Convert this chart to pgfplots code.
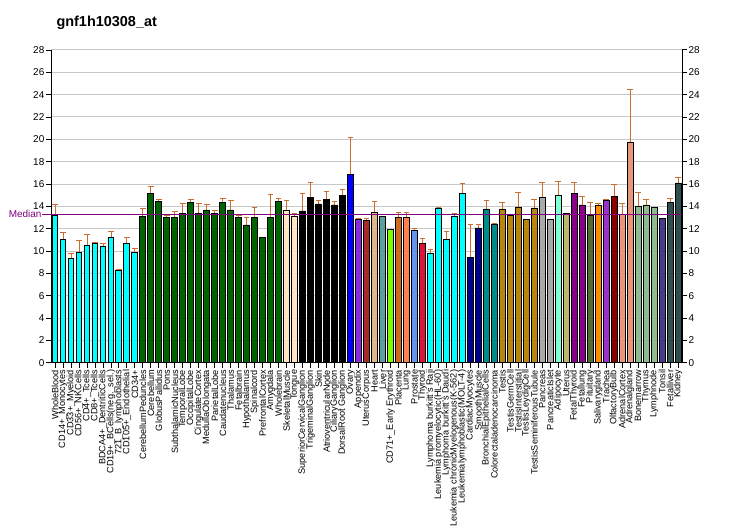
\documentclass[border=0pt]{standalone}
\usepackage{fontspec}
\setmainfont{Liberation Sans}
\usepackage{pgfplots}
\usepackage{pgfplotstable}
\pgfplotsset{compat=1.18}

\definecolor{cyanc}{RGB}{0,255,255}
\definecolor{dgreen}{RGB}{0,100,0}
\definecolor{bisque}{RGB}{255,228,196}
\definecolor{bluec}{RGB}{0,0,255}
\definecolor{blueviolet}{RGB}{138,43,226}
\definecolor{brownc}{RGB}{165,42,42}
\definecolor{burlywood}{RGB}{222,184,135}
\definecolor{cadetblue}{RGB}{95,158,160}
\definecolor{lawngreen}{RGB}{124,252,0}
\definecolor{chocolate}{RGB}{210,105,30}
\definecolor{coral}{RGB}{255,127,80}
\definecolor{cornflower}{RGB}{100,149,237}
\definecolor{crimson}{RGB}{220,20,60}
\definecolor{darkblue}{RGB}{0,0,139}
\definecolor{darkcyan}{RGB}{0,139,139}
\definecolor{dgoldenrod}{RGB}{184,134,11}
\definecolor{dgray}{RGB}{169,169,169}
\definecolor{aquamarine}{RGB}{127,255,212}
\definecolor{dkhaki}{RGB}{189,183,107}
\definecolor{dmagenta}{RGB}{139,0,139}
\definecolor{dolive}{RGB}{85,107,47}
\definecolor{dorange}{RGB}{255,140,0}
\definecolor{dorchid}{RGB}{153,50,204}
\definecolor{dred}{RGB}{139,0,0}
\definecolor{dsalmon}{RGB}{233,150,122}
\definecolor{dseagreen}{RGB}{143,188,143}
\definecolor{dslateblue}{RGB}{72,61,139}
\definecolor{dslategray}{RGB}{47,79,79}
\definecolor{errcol}{RGB}{200,110,50}
\definecolor{medcol}{RGB}{128,0,128}
\definecolor{gridcol}{RGB}{200,200,200}

% x = bar index, y = expression value, e = upper error
\pgfplotstableread{
x y e
1 13.22 0.96
2 11.07 0.60
3 9.37 0.42
4 9.88 1.08
5 10.54 0.95
6 10.69 0.06
7 10.45 0.24
8 11.25 0.51
9 8.27 0.09
10 10.69 0.53
11 9.88 0.36
12 13.13 0.69
13 15.19 0.60
14 14.39 0.24
15 12.96 0.23
16 13.04 0.51
17 13.40 0.87
18 14.30 0.33
19 13.40 0.87
20 13.67 0.51
21 13.40 0.24
22 14.30 0.42
23 13.67 0.87
24 12.96 0.23
25 12.33 0.68
26 13.04 0.87
27 11.25 0
28 12.96 2.11
29 14.39 0.33
30 13.67 0.87
31 13.13 0.24
32 13.58 1.61
33 14.75 1.40
34 14.21 0.33
35 14.57 0.77
36 14.12 0.36
37 15.01 0.51
38 16.81 3.37
39 12.78 0.15
40 12.69 0.24
41 13.49 0.99
42 13.13 0
43 11.97 0
44 12.96 0.53
45 12.96 0.53
46 11.88 0.15
47 10.63 0.50
48 9.82 0.36
49 13.85 0.09
50 10.99 0.80
51 13.13 0.24
52 15.19 0.90
53 9.46 2.93
54 12.06 0.33
55 13.76 0.78
56 12.42 0.06
57 13.76 0.63
58 13.22 0
59 13.94 1.34
60 12.78 0
61 13.85 0.78
62 14.75 1.40
63 12.78 0
64 14.93 1.31
65 13.40 0
66 15.19 0.96
67 14.12 0.81
68 13.22 1.17
69 14.12 0.18
70 14.48 0.18
71 14.84 1.16
72 13.31 0.99
73 19.76 4.72
74 14.03 1.25
75 14.12 0.54
76 13.94 0
77 12.87 0
78 14.30 0.45
79 16.09 0.54
}\data

\newcommand{\bars}[3]{\addplot[mybar, fill=#3, restrict x to domain=#1:#2] table[x=x,y=y]{\data};}

\begin{document}
\begin{tikzpicture}
\path[use as bounding box] (-51bp,-167.3bp) rectangle (681bp,362.7bp);
\pgfplotsset{mybar/.style={ybar, bar width=5.9bp, bar shift=0pt, draw=black, line width=0.9bp, mark=none}}
\begin{axis}[
  scale only axis, width=631bp, height=312.8bp,
  xmin=0.5, xmax=79.5, ymin=0, ymax=28,
  axis x line*=bottom, axis y line*=left,
  axis line style={black, line width=0.9bp},
  tick align=outside, major tick length=5bp,
  tick style={black, line width=0.8bp},
  ytick={0,2,...,28},
  ymajorgrids, grid style={gridcol, line width=0.9bp},
  /pgf/number format/assume math mode=true,
  yticklabel style={font=\fontsize{10}{10}\selectfont, inner sep=1.5bp},
  xtick={1,...,79},
  xticklabel style={rotate=90, anchor=east, font=\fontsize{9.2}{9.4}\selectfont, inner sep=2bp},
  xticklabels={WholeBlood,CD14+\_Monocytes,CD33+\_Myeloid,CD56+\_NKCells,CD4+\_Tcells,CD8+\_Tcells,BDCA4+\_DentriticCells,CD19+\_BCells(neg.\_sel.),721\_B\_lymphoblasts,CD105+\_Endothelial,CD34+,CerebellumPeduncles,Cerebellum,GlobusPallidus,Pons,SubthalamicNucleus,TemporalLobe,OccipitalLobe,CingulateCortex,MedullaOblongata,ParietalLobe,Caudatenucleus,Thalamus,Fetalbrain,Hypothalamus,Spinalcord,PrefrontalCortex,Amygdala,Wholebrain,SkeletalMuscle,Tongue,SuperiorCervicalGanglion,TrigeminalGanglion,Skin,AtrioventricularNode,CiliaryGanglion,DorsalRoot Ganglion,Ovary,Appendix,UterusCorpus,Heart,Liver,CD71+\_Early Erythroid,Placenta,Lung,Prostate,Thyroid,Lymphoma burkitt's Raji,Leukemia promyelocytic(HL-60),Lymphoma burkitt's Daudi,Leukemia chronicMyelogenous(K-562),Leukemialymphoblastic(MOLT-4),CardiacMyocytes,SmoothMuscle,BronchialEpithelialCells,Colorectaladenocarcinoma,Testis,TestisGermCell,TestisInterstitial,TestisLeydigCell,TestisSeminiferousTubule,Pancreas,PancreaticIslet,Adipocyte,Uterus,FetalThyroid,Fetallung,Pituitary,Salivarygland,Trachea,OlfactoryBulb,AdrenalCortex,Adrenalgland,Bonemarrow,Thymus,Lymphnode,Tonsil,Fetalliver,Kidney},
  clip=false,
]
% error bars first, bars drawn over them
\addplot[draw=none, mark=none, forget plot,
  error bars/.cd, y dir=plus, y explicit,
  error bar style={draw=errcol, line width=0.8bp},
  error mark options={rotate=90, draw=errcol, mark size=2.8bp, line width=0.8bp}]
  table[x=x, y=y, y error=e]{\data};
\bars{1}{11}{cyanc}
\bars{12}{29}{dgreen}
\bars{30}{31}{bisque}
\bars{32}{37}{black}
\bars{38}{38}{bluec}
\bars{39}{39}{blueviolet}
\bars{40}{40}{brownc}
\bars{41}{41}{burlywood}
\bars{42}{42}{cadetblue}
\bars{43}{43}{lawngreen}
\bars{44}{44}{chocolate}
\bars{45}{45}{coral}
\bars{46}{46}{cornflower}
\bars{47}{47}{crimson}
\bars{48}{52}{cyanc}
\bars{53}{54}{darkblue}
\bars{55}{56}{darkcyan}
\bars{57}{61}{dgoldenrod}
\bars{62}{63}{dgray}
\bars{64}{64}{aquamarine}
\bars{65}{65}{dkhaki}
\bars{66}{67}{dmagenta}
\bars{68}{68}{dolive}
\bars{69}{69}{dorange}
\bars{70}{70}{dorchid}
\bars{71}{71}{dred}
\bars{72}{73}{dsalmon}
\bars{74}{76}{dseagreen}
\bars{77}{77}{dslateblue}
\bars{78}{79}{dslategray}
% median
\addplot[medcol, line width=0.9bp, mark=none] coordinates {(-0.6,13.29) (79.5,13.29)};
\node[anchor=east, medcol, inner sep=0.5bp, font=\fontsize{10}{10}\selectfont] at (axis cs:-0.6,13.29) {Median};
\end{axis}
\begin{axis}[
  scale only axis, width=631bp, height=312.8bp,
  xmin=0.5, xmax=79.5, ymin=0, ymax=28,
  axis x line=none, axis y line*=right,
  axis line style={black, line width=0.9bp},
  tick align=outside, major tick length=5bp,
  tick style={black, line width=0.8bp},
  ytick={0,2,...,28},
  /pgf/number format/assume math mode=true,
  yticklabel style={font=\fontsize{10}{10}\selectfont, inner sep=1.5bp},
]
\addplot[draw=none, mark=none] coordinates {(1,0) (79,28)};
\end{axis}
\node[anchor=base west, font=\fontsize{14.5}{15}\selectfont\bfseries] at (2bp,336bp) {gnf1h10308\_at};
\end{tikzpicture}
\end{document}
